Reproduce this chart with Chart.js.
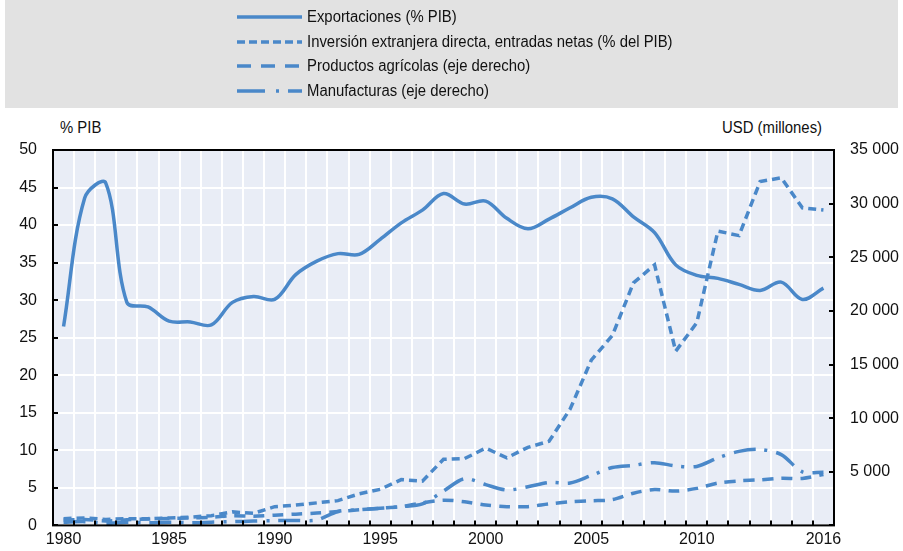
<!DOCTYPE html>
<html lang="es">
<head>
  <meta charset="UTF-8">
  <title>Exportaciones e IED</title>
  <script src="https://cdn.jsdelivr.net/npm/chart.js"></script>
  <style>
    body {
      margin: 0;
      background: #ffffff;
      font-family: 'Liberation Sans Narrow', 'Arial Narrow', 'Liberation Sans', Arial, sans-serif;
      color: #111111;
    }
    #wrap { position: relative; width: 903px; height: 551px; }
    #legendBox {
      position: absolute; left: 5px; top: 0; width: 893px; height: 108px;
      background: #e2e2e2;
    }
    .item {
      position: absolute; left: 232px; height: 20px;
      display: flex; align-items: center; font-size: 16px; white-space: nowrap;
    }
    .item svg { margin-right: 5px; }
    .item span, .axisTitle { display: inline-block; transform: scaleX(0.93); transform-origin: left center; }
    .axisTitle { position: absolute; top: 119px; font-size: 16px; white-space: nowrap; }
    canvas { position: absolute; left: 0; top: 0; }
  </style>
</head>
<body>
<div id="wrap">
  <div id="legendBox"></div>
  <div class="axisTitle" style="left:60px">% PIB</div>
  <div class="axisTitle" style="left:722px">USD (millones)</div>
  <canvas id="chart" width="903" height="551"></canvas>
</div>
<script>
  const years = [1980, 1981, 1982, 1983, 1984, 1985, 1986, 1987, 1988, 1989,
                 1990, 1991, 1992, 1993, 1994, 1995, 1996, 1997, 1998, 1999,
                 2000, 2001, 2002, 2003, 2004, 2005, 2006, 2007, 2008, 2009,
                 2010, 2011, 2012, 2013, 2014, 2015, 2016];
  const shownYears = ['1980', '1985', '1990', '1995', '2000', '2005', '2010', '2016'];

  // % PIB (eje izquierdo)
  const exportaciones = [26.5, 43.6, 45.6, 29.7, 29.1, 27.2, 27.1, 26.7, 29.7, 30.5,
                         30.1, 33.4, 35.2, 36.2, 36.1, 38.1, 40.3, 42.0, 44.2, 42.8,
                         43.2, 40.9, 39.5, 40.8, 42.3, 43.7, 43.5, 41.1, 39.0, 34.7,
                         33.3, 32.9, 32.1, 31.3, 32.4, 30.1, 31.6];
  const ied = [0.9, 1.0, 0.8, 0.9, 0.9, 1.0, 1.1, 1.3, 1.8, 1.6,
               2.5, 2.7, 3.0, 3.3, 4.2, 4.8, 6.1, 5.9, 8.8, 8.9,
               10.3, 9.0, 10.4, 11.2, 15.5, 22.0, 25.3, 32.3, 34.7, 23.2,
               27.0, 39.2, 38.6, 45.8, 46.3, 42.3, 42.0];
  // USD millones (eje derecho)
  const agricolas = [500, 550, 420, 520, 600, 650, 700, 750, 900, 850,
                     950, 1050, 1150, 1300, 1450, 1600, 1750, 2100, 2350, 2200,
                     1900, 1750, 1750, 2000, 2200, 2300, 2400, 3000, 3350, 3200,
                     3450, 3950, 4150, 4250, 4400, 4380, 4750];
  const manufacturas = [300, 350, 200, 300, 250, 300, 250, 300, 350, 400,
                        450, 450, 500, 1300, 1450, 1600, 1750, 2000, 3200, 4350,
                        3800, 3300, 3600, 4000, 3950, 4650, 5400, 5600, 5850, 5550,
                        5500, 6300, 6900, 7080, 6600, 5000, 4950];

  const seriesNames = ['Exportaciones (% PIB)',
                       'Inversión extranjera directa, entradas netas (% del PIB)',
                       'Productos agrícolas (eje derecho)',
                       'Manufacturas (eje derecho)'];
  const blue = '#4a88c9';
  const dashes = [[], [8, 5], [11, 8], [22, 9, 3, 9]];

  // leyenda
  const legendRows = [7, 32, 56, 81];
  const legendDash = ['', '8 4', '14 10', '28 11 3 9 14'];
  seriesNames.forEach((name, i) => {
    const div = document.createElement('div');
    div.className = 'item';
    div.style.top = legendRows[i] + 'px';
    div.innerHTML = '<svg width="70" height="6"><line x1="5" y1="3" x2="70" y2="3" stroke="' + blue +
      '" stroke-width="3.5" stroke-dasharray="' + legendDash[i] + '"/></svg><span>' + name + '</span>';
    document.getElementById('wrap').appendChild(div);
  });

  const frame = {
    id: 'frame',
    beforeDraw(chart) {
      const a = chart.chartArea, ctx = chart.ctx;
      ctx.save();
      ctx.fillStyle = '#e9edf6';
      ctx.fillRect(a.left, a.top, a.right - a.left, a.bottom - a.top);
      ctx.restore();
    },
    afterDraw(chart) {
      const a = chart.chartArea, ctx = chart.ctx;
      const x = chart.scales.x, y = chart.scales.y, y2 = chart.scales.y2;
      ctx.save();
      ctx.strokeStyle = '#000';
      ctx.lineWidth = 2;
      ctx.strokeRect(a.left, a.top, a.right - a.left, a.bottom - a.top);
      ctx.beginPath();
      y.ticks.forEach(t => {
        const py = Math.round(y.getPixelForValue(t.value));
        ctx.moveTo(a.left, py); ctx.lineTo(a.left + 5, py);
      });
      y2.ticks.forEach(t => {
        const py = Math.round(y2.getPixelForValue(t.value));
        ctx.moveTo(a.right, py); ctx.lineTo(a.right - 5, py);
      });
      const step = (x.right - x.left) / years.length;
      for (let i = 1; i < years.length; i++) {
        const px = Math.round(x.getPixelForValue(i) - step / 2);
        ctx.moveTo(px, a.bottom); ctx.lineTo(px, a.bottom - 5);
      }
      ctx.stroke();
      ctx.restore();
    }
  };

  const tickFont = { family: "'Liberation Sans Narrow', 'Arial Narrow', 'Liberation Sans', Arial, sans-serif", size: 16 };

  new Chart(document.getElementById('chart'), {
    type: 'line',
    data: {
      labels: years,
      datasets: [
        { label: seriesNames[0], data: exportaciones, yAxisID: 'y', tension: 0.35 },
        { label: seriesNames[1], data: ied, yAxisID: 'y', tension: 0 },
        { label: seriesNames[2], data: agricolas, yAxisID: 'y2', tension: 0.3 },
        { label: seriesNames[3], data: manufacturas, yAxisID: 'y2', tension: 0.3 }
      ].map((d, i) => Object.assign(d, {
        borderColor: blue,
        borderWidth: 3.5,
        borderDash: dashes[i],
        borderCapStyle: 'butt',
        pointRadius: 0,
        fill: false
      }))
    },
    options: {
      responsive: false,
      animation: false,
      devicePixelRatio: 1,
      layout: { padding: { top: 150, left: 0, right: 0, bottom: 0 } },
      plugins: { legend: { display: false }, tooltip: { enabled: false } },
      scales: {
        x: {
          offset: true,
          grid: { offset: true, color: '#ffffff', lineWidth: 2, drawTicks: false },
          border: { display: false },
          ticks: {
            autoSkip: false, maxRotation: 0, padding: 5, color: '#111', font: tickFont,
            callback: function (v) {
              const lab = String(years[v]);
              return shownYears.includes(lab) ? lab : '';
            }
          },
          afterFit: s => { s.height = 24; }
        },
        y: {
          position: 'left', min: 0, max: 50,
          grid: { color: '#ffffff', lineWidth: 2, drawTicks: false },
          border: { display: false },
          ticks: { stepSize: 5, padding: 16, color: '#111', font: tickFont },
          afterFit: s => { s.width = 53; }
        },
        y2: {
          position: 'right', min: 0, max: 35000,
          grid: { display: false, drawTicks: false },
          border: { display: false },
          ticks: {
            stepSize: 5000, padding: 16, color: '#111', font: tickFont,
            callback: v => v === 0 ? '' : String(v).replace(/\B(?=(\d{3})+(?!\d))/g, ' ')
          },
          afterFit: s => { s.width = 69; }
        }
      }
    },
    plugins: [frame]
  });
</script>
</body>
</html>
